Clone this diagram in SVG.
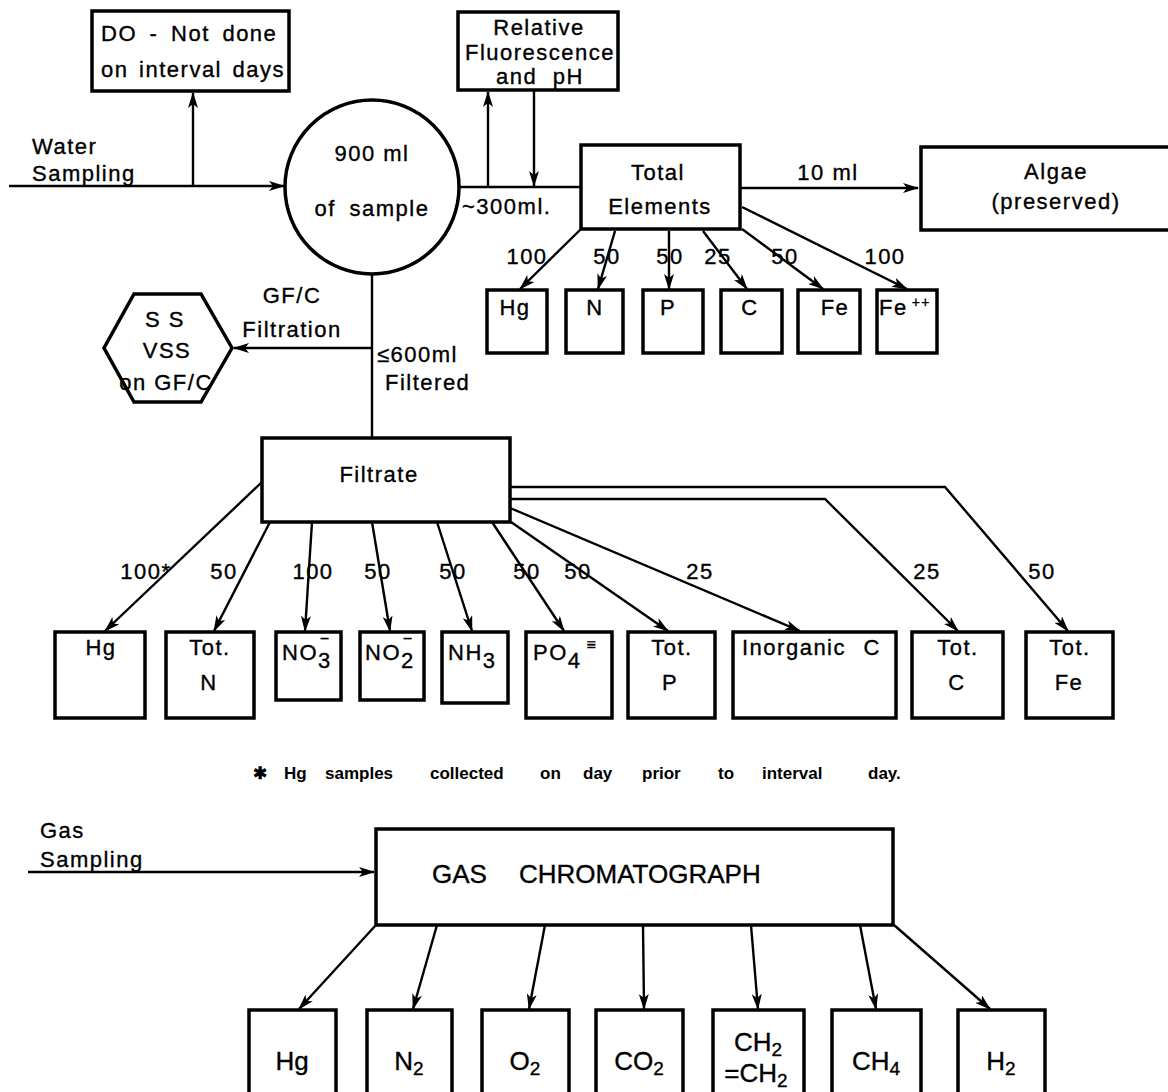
<svg xmlns="http://www.w3.org/2000/svg" width="1168" height="1092" viewBox="0 0 1168 1092">
<style>
.bx{fill:#fff;stroke:#000;stroke-width:3.5}
.ln{fill:none;stroke:#000;stroke-width:2.4}
.t{font-family:"Liberation Sans",Arial,sans-serif;font-size:22px;fill:#000;stroke:#000;stroke-width:0.35;text-anchor:middle;letter-spacing:1.5px}
.l{text-anchor:start}
.n{font-size:26px;letter-spacing:0}
.fn{font-family:"Liberation Sans",Arial,sans-serif;font-size:17px;font-weight:bold;fill:#000}
</style>
<defs>
<marker id="a" viewBox="0 0 16 10" refX="15" refY="5" markerWidth="16" markerHeight="10" markerUnits="userSpaceOnUse" orient="auto">
<path d="M0,0 L16,5 L0,10 L4,5 z" fill="#000"/>
</marker>
</defs>
<rect width="1168" height="1092" fill="#fff"/>

<g id="connectors">
<path class="ln" d="M9,186 H284" marker-end="url(#a)"/>
<path class="ln" d="M193,186 V93" marker-end="url(#a)"/>
<path class="ln" d="M459,187 H581"/>
<path class="ln" d="M488,187 V92" marker-end="url(#a)"/>
<path class="ln" d="M534,90 V186" marker-end="url(#a)"/>
<path class="ln" d="M740,188 H918" marker-end="url(#a)"/>
<path class="ln" d="M581,229 L520,289" marker-end="url(#a)"/>
<path class="ln" d="M615,231 L598,289" marker-end="url(#a)"/>
<path class="ln" d="M669,231 V289" marker-end="url(#a)"/>
<path class="ln" d="M703,231 L747,289" marker-end="url(#a)"/>
<path class="ln" d="M742,229 L823,289" marker-end="url(#a)"/>
<path class="ln" d="M742,207 L907,289" marker-end="url(#a)"/>
<path class="ln" d="M372,274 V438"/>
<path class="ln" d="M372,348 H234" marker-end="url(#a)"/>
<path class="ln" d="M262,482 L105,631" marker-end="url(#a)"/>
<path class="ln" d="M270,522 L214,631" marker-end="url(#a)"/>
<path class="ln" d="M312,522 L305,631" marker-end="url(#a)"/>
<path class="ln" d="M372,522 L390,631" marker-end="url(#a)"/>
<path class="ln" d="M437,522 L472,631" marker-end="url(#a)"/>
<path class="ln" d="M492,522 L564,631" marker-end="url(#a)"/>
<path class="ln" d="M511,522 L668,631" marker-end="url(#a)"/>
<path class="ln" d="M510,508 L800,631" marker-end="url(#a)"/>
<path class="ln" d="M510,499 H825 L958,631" marker-end="url(#a)"/>
<path class="ln" d="M510,487 H945 L1068,631" marker-end="url(#a)"/>
<path class="ln" d="M28,872 H374" marker-end="url(#a)"/>
<path class="ln" d="M376,925 L299,1009" marker-end="url(#a)"/>
<path class="ln" d="M437,925 L413,1009" marker-end="url(#a)"/>
<path class="ln" d="M545,925 L529,1009" marker-end="url(#a)"/>
<path class="ln" d="M643,925 L644,1009" marker-end="url(#a)"/>
<path class="ln" d="M751,925 L758,1009" marker-end="url(#a)"/>
<path class="ln" d="M860,925 L876,1009" marker-end="url(#a)"/>
<path class="ln" d="M894,925 L990,1009" marker-end="url(#a)"/>
</g>

<g id="labels">
<text class="t l" x="32" y="154">Water</text>
<text class="t l" x="32" y="181">Sampling</text>
<text class="t l" x="462" y="214" letter-spacing="3">~300ml.</text>
<text class="t" x="828" y="180">10 ml</text>
<text class="t" x="527" y="264" letter-spacing="0">100</text>
<text class="t" x="607" y="264">50</text>
<text class="t" x="670" y="264">50</text>
<text class="t" x="718" y="264">25</text>
<text class="t" x="785" y="264">50</text>
<text class="t" x="885" y="264" letter-spacing="0">100</text>
<text class="t" x="292" y="303" letter-spacing="2">GF/C</text>
<text class="t" x="292" y="337" letter-spacing="2">Filtration</text>
<text class="t l" x="377" y="362" font-size="24" letter-spacing="1">≤600ml</text>
<text class="t l" x="385" y="390" letter-spacing="2.5">Filtered</text>
<text class="t" x="146" y="579" letter-spacing="0">100*</text>
<text class="t" x="224" y="579">50</text>
<text class="t" x="313" y="579" letter-spacing="0">100</text>
<text class="t" x="378" y="579">50</text>
<text class="t" x="453" y="579">50</text>
<text class="t" x="527" y="579">50</text>
<text class="t" x="578" y="579">50</text>
<text class="t" x="700" y="579">25</text>
<text class="t" x="927" y="579">25</text>
<text class="t" x="1042" y="579">50</text>
<text class="fn" y="779"><tspan x="253">✱</tspan><tspan x="284">Hg</tspan><tspan x="325">samples</tspan><tspan x="430">collected</tspan><tspan x="540">on</tspan><tspan x="583">day</tspan><tspan x="642">prior</tspan><tspan x="718">to</tspan><tspan x="762">interval</tspan><tspan x="868">day.</tspan></text>
<text class="t l" x="40" y="838" letter-spacing="3">Gas</text>
<text class="t l" x="40" y="867">Sampling</text>
</g>

<g id="do-box"><rect class="bx" x="92" y="11" width="197" height="80"/>
<text class="t l" x="101" y="41" letter-spacing="1" word-spacing="5">DO - Not done</text>
<text class="t l" x="101" y="77" letter-spacing="0.8" word-spacing="3">on interval days</text></g>

<g id="sample"><circle class="bx" cx="372" cy="187" r="87"/>
<text class="t" x="372" y="161" letter-spacing="2">900 ml</text>
<text class="t" x="372" y="216" letter-spacing="1.5" word-spacing="6">of sample</text></g>

<g id="fluorescence"><rect class="bx" x="458" y="12" width="160" height="78"/>
<text class="t" x="539" y="35" font-size="21" letter-spacing="2">Relative</text>
<text class="t" x="540" y="60" font-size="21" letter-spacing="1.5">Fluorescence</text>
<text class="t" x="540" y="84" font-size="21" letter-spacing="1.5" word-spacing="8">and pH</text></g>

<g id="total-elements"><rect class="bx" x="581" y="145" width="159" height="84"/>
<text class="t" x="658" y="180" letter-spacing="2.5">Total</text>
<text class="t" x="660" y="214">Elements</text></g>

<g id="algae"><rect class="bx" x="921" y="147" width="260" height="83"/>
<text class="t" x="1056" y="179">Algae</text>
<text class="t" x="1056" y="209">(preserved)</text></g>

<g id="te-hg"><rect class="bx" x="487" y="290" width="60" height="63"/><text class="t" x="515" y="315" letter-spacing="0">Hg</text></g>
<g id="te-n"><rect class="bx" x="566" y="290" width="57" height="63"/><text class="t" x="595" y="315" letter-spacing="0">N</text></g>
<g id="te-p"><rect class="bx" x="643" y="290" width="60" height="63"/><text class="t" x="668" y="315" letter-spacing="0">P</text></g>
<g id="te-c"><rect class="bx" x="721" y="290" width="61" height="63"/><text class="t" x="750" y="315" letter-spacing="0">C</text></g>
<g id="te-fe"><rect class="bx" x="798" y="290" width="62" height="63"/><text class="t" x="835" y="315" letter-spacing="0">Fe</text></g>
<g id="te-fe2"><rect class="bx" x="877" y="290" width="60" height="63"/><text class="t l" x="879" y="315" letter-spacing="0">Fe<tspan font-size="14" dx="4" dy="-8">++</tspan></text></g>

<g id="ss-vss"><polygon class="bx" points="134,294 201,294 232,348 201,402 134,402 104,348"/>
<text class="t" x="165" y="327" letter-spacing="2">S S</text>
<text class="t" x="167" y="358" letter-spacing="2">VSS</text>
<text class="t" x="166" y="390" letter-spacing="0">on GF/C</text></g>

<g id="filtrate"><rect class="bx" x="262" y="438" width="248" height="84"/>
<text class="t" x="379" y="482" letter-spacing="3">Filtrate</text></g>

<g id="f-hg"><rect class="bx" x="55" y="632" width="90" height="86"/><text class="t" x="101" y="655" letter-spacing="0">Hg</text></g>
<g id="f-totn"><rect class="bx" x="166" y="632" width="88" height="86"/><text class="t" x="210" y="655">Tot.</text><text class="t" x="209" y="690">N</text></g>
<g id="f-no3"><rect class="bx" x="276" y="632" width="65" height="68"/><text class="t l" x="282" y="660" letter-spacing="0">NO<tspan dy="8">3</tspan><tspan dx="-12" dy="-24" font-size="16">−</tspan></text></g>
<g id="f-no2"><rect class="bx" x="360" y="632" width="64" height="68"/><text class="t l" x="365" y="660" letter-spacing="0">NO<tspan dy="8">2</tspan><tspan dx="-12" dy="-24" font-size="16">−</tspan></text></g>
<g id="f-nh3"><rect class="bx" x="442" y="632" width="66" height="71"/><text class="t l" x="448" y="660" letter-spacing="0">NH<tspan dy="8">3</tspan></text></g>
<g id="f-po4"><rect class="bx" x="526" y="632" width="86" height="86"/><text class="t l" x="533" y="660" letter-spacing="0">PO<tspan dy="8">4</tspan><tspan dx="5" dy="-18" font-size="16">≡</tspan></text></g>
<g id="f-totp"><rect class="bx" x="628" y="632" width="87" height="86"/><text class="t" x="672" y="655">Tot.</text><text class="t" x="670" y="690">P</text></g>
<g id="f-inorgc"><rect class="bx" x="733" y="632" width="163" height="86"/><text class="t l" x="742" y="655" letter-spacing="0.5" word-spacing="10">Inorganic C</text></g>
<g id="f-totc"><rect class="bx" x="912" y="632" width="91" height="86"/><text class="t" x="958" y="655">Tot.</text><text class="t" x="957" y="690">C</text></g>
<g id="f-totfe"><rect class="bx" x="1026" y="632" width="87" height="86"/><text class="t" x="1070" y="655">Tot.</text><text class="t" x="1069" y="690">Fe</text></g>

<g id="gc"><rect class="bx" x="376" y="829" width="517" height="96"/>
<text class="t l n" x="432" y="883">GAS</text>
<text class="t l n" x="519" y="883">CHROMATOGRAPH</text></g>

<g id="g-hg"><rect class="bx" x="249" y="1010" width="87" height="100"/><text class="t n" x="292" y="1070">Hg</text></g>
<g id="g-n2"><rect class="bx" x="367" y="1010" width="85" height="100"/><text class="t n" x="409" y="1070">N<tspan font-size="19" dy="5">2</tspan></text></g>
<g id="g-o2"><rect class="bx" x="482" y="1010" width="87" height="100"/><text class="t n" x="525" y="1070">O<tspan font-size="19" dy="5">2</tspan></text></g>
<g id="g-co2"><rect class="bx" x="596" y="1010" width="87" height="100"/><text class="t n" x="639" y="1070">CO<tspan font-size="19" dy="5">2</tspan></text></g>
<g id="g-ch2"><rect class="bx" x="713" y="1010" width="91" height="100"/><text class="t n" x="758" y="1051">CH<tspan font-size="19" dy="5">2</tspan></text><text class="t n" x="756" y="1082">=CH<tspan font-size="19" dy="5">2</tspan></text></g>
<g id="g-ch4"><rect class="bx" x="832" y="1010" width="89" height="100"/><text class="t n" x="876" y="1070">CH<tspan font-size="19" dy="5">4</tspan></text></g>
<g id="g-h2"><rect class="bx" x="958" y="1010" width="87" height="100"/><text class="t n" x="1001" y="1070">H<tspan font-size="19" dy="5">2</tspan></text></g>
</svg>
